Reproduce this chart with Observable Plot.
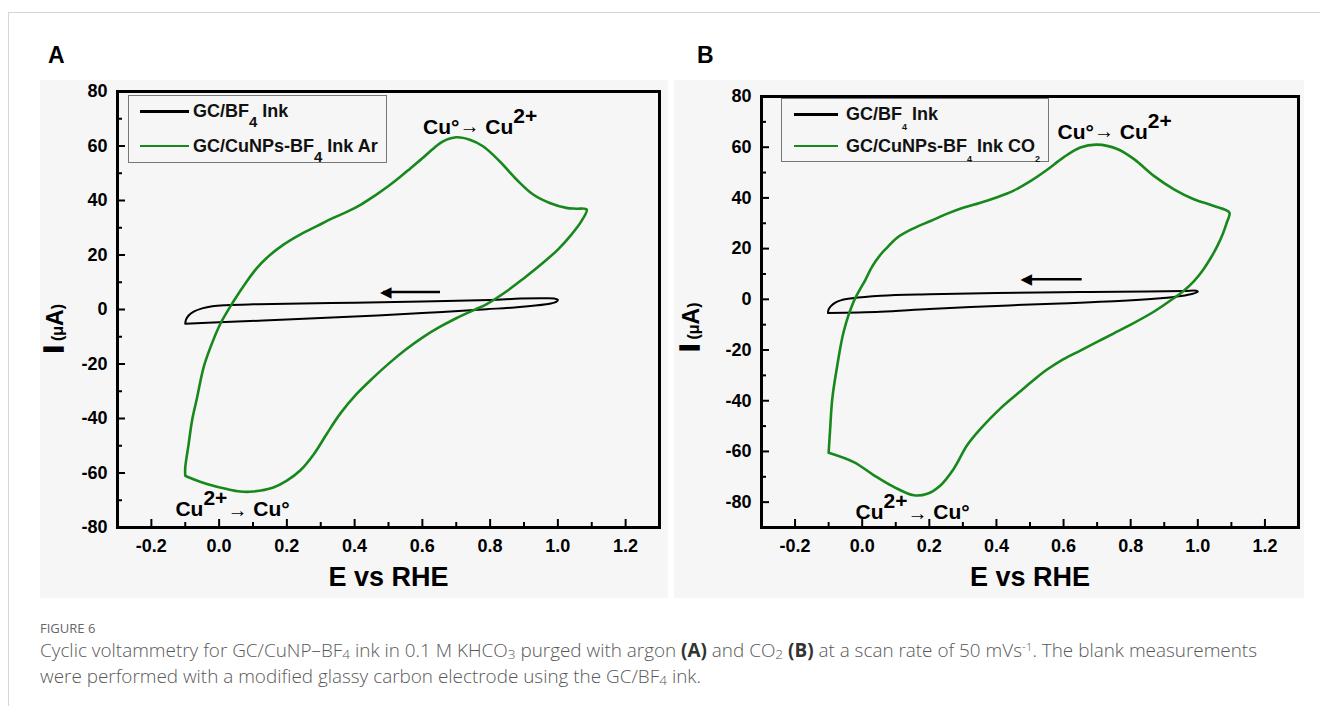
<!DOCTYPE html>
<html><head><meta charset="utf-8">
<script src="https://cdn.jsdelivr.net/npm/d3@7"></script>
<script src="https://cdn.jsdelivr.net/npm/@observablehq/plot@0.6"></script>
<style>
body{margin:0;background:#fff;}
#root{position:relative;width:1320px;height:706px;overflow:hidden;font-family:"Liberation Sans",Arial,sans-serif;}
.pageframe{position:absolute;left:8px;top:12px;right:-2px;bottom:-2px;border-top:1px solid #d6d6d6;border-left:1px solid #d6d6d6;}
.letter{position:absolute;font-weight:bold;font-size:23px;color:#000;line-height:22px;}
.legend{position:absolute;border:1px solid #777;box-sizing:border-box;}
.lrow{position:absolute;left:0;right:0;height:0;}
.lline{position:absolute;top:-1.5px;height:3px;}
.ltext{position:absolute;top:-11px;line-height:22px;font-weight:bold;font-size:18px;white-space:nowrap;color:#111;}
.subA{font-size:15px;position:relative;top:5px;}
.subB{font-size:9px;position:relative;top:5px;}
.fig{position:absolute;left:40px;font-family:"Open Sans",sans-serif;font-size:13px;color:#666;line-height:20px;}
.cap{position:absolute;left:40px;font-family:"Open Sans",sans-serif;font-weight:300;font-size:16px;color:#595959;line-height:20px;white-space:nowrap;}
.cap sub{font-size:0.72em;vertical-align:-0.18em;line-height:0;}
.cap sup{font-size:0.62em;vertical-align:0.5em;line-height:0;}
.cap b{color:#333;font-weight:700;}
</style></head><body><div id="root"><div class="pageframe"></div></div>
<script>
// ---------- data ----------
const xDomain = [-0.3, 1.3];
const xMajor = [-0.2, 0.0, 0.2, 0.4, 0.6, 0.8, 1.0, 1.2];
const xMinor = [-0.1, 0.1, 0.3, 0.5, 0.7, 0.9, 1.1];
const yMajor = [-80, -60, -40, -20, 0, 20, 40, 60, 80];
const yMinor = [-70, -50, -30, -10, 10, 30, 50, 70];
const yDomainA = [-80, 80];
const yDomainB = [-90, 80];
const seriesColors = ["#000000", "#17881b"];
const seriesNamesA = ["GC/BF<sub class='subA'>4</sub> Ink", "GC/CuNPs-BF<sub class='subA'>4</sub> Ink Ar"];
const seriesNamesB = ["GC/BF<sub class='subB'>4</sub> Ink", "GC/CuNPs-BF<sub class='subB'>4</sub> Ink CO<sub class='subB'>2</sub>"];
const xTitle = "E vs RHE";
const yTitle = "I (μA)";

// Panel A (argon) — [E (V vs RHE), I (µA)]
const blankA = [[-0.1,-5.2],[-0.098,-3.8],[-0.09,-2.2],[-0.075,-0.8],[-0.05,0.4],[-0.02,1.2],[0.02,1.6],[0.1,1.9],[0.2,2.1],[0.4,2.5],[0.6,2.9],[0.8,3.5],[0.89,4.0],[0.96,4.1],[0.99,4.0],[1.0,3.6],[0.995,2.8],[0.975,2.1],[0.966,1.9],[0.887,0.9],[0.789,0.1],[0.6,-1.3],[0.4,-2.6],[0.2,-3.7],[0.0,-4.7],[-0.1,-5.2]];
const cuA = [[-0.1,-61],[-0.07,-62.6],[-0.036,-64],[0.023,-65.9],[0.062,-66.8],[0.10,-66.8],[0.16,-65.3],[0.20,-62.8],[0.24,-59],[0.28,-53],[0.318,-45.6],[0.357,-38.3],[0.406,-31],[0.455,-25],[0.504,-19.5],[0.553,-14.5],[0.60,-10.3],[0.65,-6.5],[0.70,-3.2],[0.75,-0.3],[0.79,2],[0.85,6.8],[0.9,11.5],[0.95,16.5],[1.0,22],[1.04,27.5],[1.07,32.5],[1.085,36.7],[1.055,37],[1.025,37.3],[0.976,39.1],[0.927,42.2],[0.878,47.7],[0.828,54.4],[0.779,59.9],[0.74,62.3],[0.70,63.2],[0.661,61.7],[0.63,58.8],[0.6,55.5],[0.563,51.6],[0.534,48.6],[0.5,45.3],[0.46,41.8],[0.42,38.6],[0.38,36],[0.337,33.6],[0.29,30.7],[0.239,27.5],[0.19,23.8],[0.141,19],[0.11,15],[0.082,10.4],[0.043,3.1],[0.003,-5.4],[-0.026,-14],[-0.046,-21.3],[-0.065,-32.3],[-0.08,-40.8],[-0.09,-49.4],[-0.1,-58],[-0.1,-61]];

// Panel B (CO2)
const blankB = [[-0.102,-5.4],[-0.1,-4],[-0.094,-2.8],[-0.08,-1.3],[-0.064,-0.4],[-0.03,0.4],[0.055,1.4],[0.2,2.0],[0.4,2.5],[0.65,2.9],[0.85,3.1],[0.96,3.3],[0.995,3.4],[1.0,3.0],[0.985,2.2],[0.95,1.3],[0.889,0.4],[0.75,-0.8],[0.59,-1.6],[0.4,-2.6],[0.2,-3.8],[0.055,-4.9],[-0.102,-5.4]];
const cuB = [[-0.1,-60.5],[-0.025,-64.2],[0.035,-69.4],[0.094,-74],[0.154,-77.3],[0.194,-76.7],[0.233,-73.4],[0.273,-66.8],[0.313,-57.5],[0.353,-51],[0.412,-43],[0.482,-35.1],[0.52,-30.8],[0.551,-27.7],[0.60,-23.6],[0.65,-20.2],[0.70,-16.8],[0.75,-13.4],[0.79,-10.7],[0.87,-4.8],[0.929,0.5],[0.96,3.6],[0.988,7.1],[1.015,11.5],[1.038,16.2],[1.058,21],[1.075,26],[1.087,30.5],[1.094,34.2],[1.048,36.8],[0.988,39.5],[0.929,43.4],[0.869,48.7],[0.81,55.3],[0.76,59.3],[0.70,61],[0.65,59.9],[0.60,56],[0.55,51],[0.50,46.5],[0.45,42.8],[0.40,40.2],[0.35,38],[0.303,36.2],[0.25,33.6],[0.204,30.9],[0.15,27.8],[0.104,24.3],[0.075,20.5],[0.055,17.7],[0.03,13],[0.01,7.8],[-0.025,-0.8],[-0.055,-12.7],[-0.074,-25.9],[-0.089,-39.1],[-0.096,-52.3],[-0.1,-60.5]];

// annotations and scan-direction arrows
const annA = [{x:0.602, y:64.3, label:"Cu°→ Cu2+"}, {x:-0.129, y:-75.6, label:"Cu2+→ Cu°"}];
const annB = [{x:0.582, y:63.4, label:"Cu°→ Cu2+"}, {x:-0.02, y:-86.7, label:"Cu2+→ Cu°"}];
const arrowA = [{x1:0.652, y1:6.4, x2:0.484, y2:6.4}];
const arrowB = [{x1:0.654, y1:7.9, x2:0.481, y2:7.9}];

// rich-text definitions: [text, {size, rise, stroke}]
const rich = {
  "Cu°→ Cu2+": [["Cu°"],["→",{size:20,rise:1}],[" Cu"],["2+",{rise:11}]],
  "Cu2+→ Cu°": [["Cu"],["2+",{rise:11}],["→",{size:20,rise:-1}],[" Cu°"]],
  "I (μA)": [["I",{size:27,stroke:1.5}],[" (μ",{size:16}],["A",{size:23}],[")",{size:16}]]
};

function richify(svg) {
  d3.select(svg).selectAll("text").each(function() {
    const def = rich[this.textContent];
    if (!def) return;
    this.textContent = "";
    let rise = 0;
    for (const [str, o = {}] of def) {
      const r = o.rise || 0;
      const ts = document.createElementNS("http://www.w3.org/2000/svg", "tspan");
      ts.textContent = str;
      if (r !== rise) ts.setAttribute("dy", String(rise - r));
      rise = r;
      if (o.size) ts.setAttribute("font-size", o.size);
      if (o.stroke) { ts.setAttribute("stroke", "black"); ts.setAttribute("stroke-width", o.stroke); }
      this.appendChild(ts);
    }
  });
}

function panel(cfg) {
  const {left, top, width, height, ml, mr, mt, mb, yDomain, blank, cu, ann, arrow, yDx, yDy} = cfg;
  const innerW = width - ml - mr, innerH = height - mt - mb;
  const xy = {x: d => d[0], y: d => d[1]};
  const svg = Plot.plot({
    width, height, marginLeft: ml, marginRight: mr, marginTop: mt, marginBottom: mb,
    x: {domain: xDomain}, y: {domain: yDomain},
    style: {background: "#f6f6f6", fontFamily: "'Liberation Sans', Arial, sans-serif", fontWeight: "bold", fontSize: "18px", color: "#000", overflow: "visible"},
    marks: [
      Plot.line(blank, {...xy, stroke: seriesColors[0], strokeWidth: 2, curve: "catmull-rom"}),
      Plot.line(cu, {...xy, stroke: seriesColors[1], strokeWidth: 2.6, curve: "catmull-rom"}),
      Plot.link(arrow, {x1: "x1", y1: "y1", x2: "x2", y2: "y2", stroke: "#000", strokeWidth: 2.6}),
      Plot.text(arrow, {x: "x2", y: "y2", text: () => "◀", textAnchor: "start", dx: -3, fontSize: 15, fontFamily: "DejaVu Sans", fill: "#000"}),
      Plot.tickX(xMajor, {x: d => d, insetTop: innerH - 8, stroke: "#000", strokeWidth: 2}),
      Plot.tickX(xMinor, {x: d => d, insetTop: innerH - 5, stroke: "#000", strokeWidth: 2}),
      Plot.tickY(yMajor, {y: d => d, insetRight: innerW - 8, stroke: "#000", strokeWidth: 2}),
      Plot.tickY(yMinor, {y: d => d, insetRight: innerW - 5, stroke: "#000", strokeWidth: 2}),
      Plot.axisX({ticks: xMajor, tickSize: 0, tickPadding: 12, tickFormat: d => d.toFixed(1), label: null, fontSize: 18, fontWeight: "bold"}),
      Plot.axisY({ticks: yMajor, tickSize: 0, tickPadding: 10, tickFormat: d => String(d), label: null, fontSize: 18, fontWeight: "bold"}),
      Plot.frame({stroke: "#000", strokeWidth: 3}),
      Plot.text([xTitle], {frameAnchor: "bottom", dy: 58, fontSize: 27, fontWeight: "bold"}),
      Plot.text([yTitle], {frameAnchor: "left", dx: yDx, dy: yDy, rotate: -90, textAnchor: "middle", lineAnchor: "bottom", fontSize: 22, fontWeight: "bold"}),
      Plot.text(ann, {x: "x", y: "y", text: "label", textAnchor: "start", lineAnchor: "bottom", fontSize: 21, fontWeight: "bold"})
    ]
  });
  richify(svg);
  svg.style.position = "absolute";
  svg.style.left = left + "px";
  svg.style.top = top + "px";
  return svg;
}

const root = document.getElementById("root");
root.appendChild(panel({left: 40, top: 80, width: 628, height: 518, ml: 77, mr: 9, mt: 11, mb: 71, yDomain: yDomainA, blank: blankA, cu: cuA, ann: annA, arrow: arrowA, yDx: -55, yDy: 19}));
root.appendChild(panel({left: 674, top: 80, width: 630, height: 518, ml: 87, mr: 6, mt: 16, mb: 71, yDomain: yDomainB, blank: blankB, cu: cuB, ann: annB, arrow: arrowB, yDx: -63, yDy: 15}));

function addLetter(t, x, y) {
  const d = document.createElement("div");
  d.className = "letter"; d.textContent = t;
  d.style.left = x + "px"; d.style.top = y + "px";
  root.appendChild(d);
}
addLetter("A", 48, 44);
addLetter("B", 697, 44);

function addLegend(names, box, rows, line, textX) {
  const lg = document.createElement("div");
  lg.className = "legend";
  Object.assign(lg.style, {left: box[0] + "px", top: box[1] + "px", width: box[2] + "px", height: box[3] + "px"});
  names.forEach((n, i) => {
    const r = document.createElement("div");
    r.className = "lrow"; r.style.top = rows[i] + "px";
    r.innerHTML = `<div class="lline" style="left:${line[0]}px;width:${line[1]}px;background:${seriesColors[i]};height:${i ? 2.6 : 3}px"></div><div class="ltext" style="left:${textX}px">${n}</div>`;
    lg.appendChild(r);
  });
  root.appendChild(lg);
}
addLegend(seriesNamesA, [128, 95, 259, 68], [15, 50], [11, 49], 64);
addLegend(seriesNamesB, [781, 98, 268, 64], [15, 47], [12, 44], 64);

const fig = document.createElement("div");
fig.className = "fig"; fig.textContent = "FIGURE 6"; fig.style.top = "618px";
root.appendChild(fig);
const c1 = document.createElement("div");
c1.className = "cap"; c1.style.top = "640px";
c1.innerHTML = "Cyclic voltammetry for GC/CuNP–BF<sub>4</sub> ink in 0.1 M KHCO<sub>3</sub> purged with argon <b>(A)</b> and CO<sub>2</sub> <b>(B)</b> at a scan rate of 50 mVs<sup>-1</sup>. The blank measurements";
root.appendChild(c1);
const c2 = document.createElement("div");
c2.className = "cap"; c2.style.top = "666px";
c2.innerHTML = "were performed with a modified glassy carbon electrode using the GC/BF<sub>4</sub> ink.";
root.appendChild(c2);
const w = c1.getBoundingClientRect().width;
const fs = 16 * 1218 / w;
c1.style.fontSize = fs + "px"; c2.style.fontSize = fs + "px";
</script>
</body></html>
